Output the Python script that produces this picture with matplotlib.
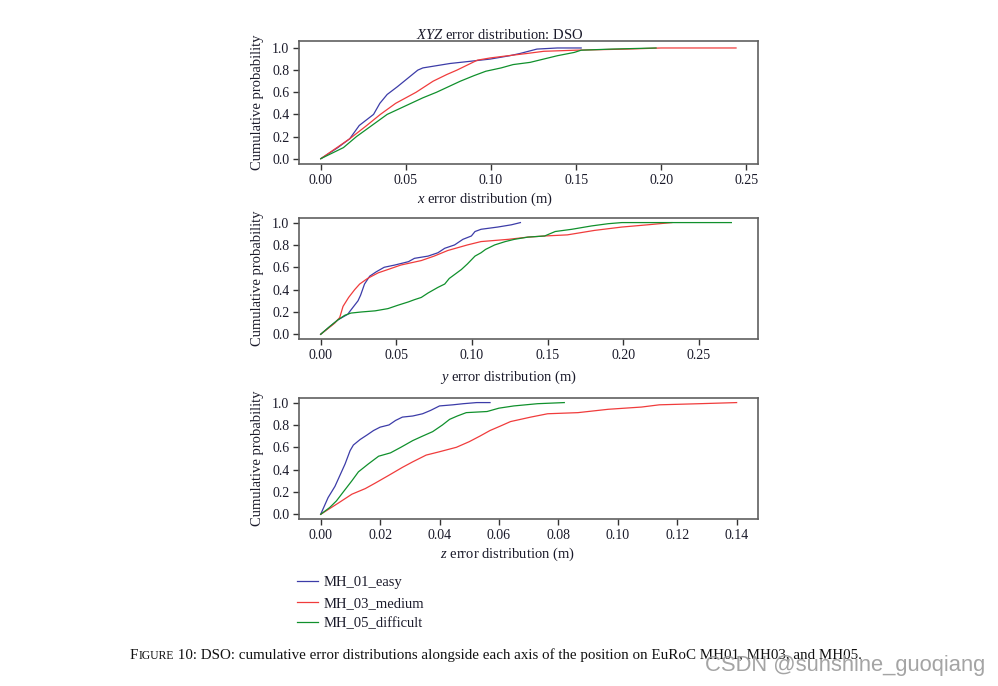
import matplotlib
matplotlib.use('Agg')
import matplotlib.pyplot as plt

plt.rcParams['font.family'] = ['Liberation Serif', 'DejaVu Serif']
plt.rcParams['mathtext.fontset'] = 'custom'
plt.rcParams['mathtext.rm'] = 'Liberation Serif'
plt.rcParams['mathtext.it'] = 'Liberation Serif:italic'

# series names and colours
names = ['MH_01_easy', 'MH_03_medium', 'MH_05_difficult']
colors = ['#3c3ca8', '#f03c3c', '#10902c']

# x axis error (m) vs cumulative probability
x_easy_err = [0, 0.010, 0.017, 0.0226, 0.031, 0.0347, 0.039, 0.045, 0.049, 0.053, 0.057, 0.060, 0.064,
              0.076, 0.088, 0.0996, 0.111, 0.117, 0.127, 0.139, 0.153]
x_easy_p = [0, 0.10, 0.18, 0.30, 0.40, 0.50, 0.58, 0.65, 0.70, 0.75, 0.80, 0.82, 0.83,
            0.86, 0.88, 0.90, 0.93, 0.95, 0.99, 1.0, 1.0]
x_med_err = [0, 0.017, 0.027, 0.035, 0.044, 0.050, 0.056, 0.066, 0.074, 0.080, 0.088, 0.092, 0.0996,
             0.110, 0.121, 0.131, 0.150, 0.180, 0.200, 0.244]
x_med_p = [0, 0.18, 0.30, 0.40, 0.50, 0.55, 0.60, 0.70, 0.76, 0.80, 0.86, 0.89, 0.91,
           0.93, 0.95, 0.97, 0.98, 0.99, 1.0, 1.0]
x_diff_err = [0, 0.0133, 0.021, 0.030, 0.039, 0.046, 0.053, 0.060, 0.068, 0.075, 0.082, 0.090, 0.097,
              0.106, 0.113, 0.123, 0.131, 0.139, 0.149, 0.153, 0.171, 0.197]
x_diff_p = [0, 0.10, 0.20, 0.30, 0.40, 0.45, 0.50, 0.55, 0.60, 0.65, 0.70, 0.75, 0.79,
            0.82, 0.85, 0.87, 0.90, 0.93, 0.96, 0.98, 0.99, 1.0]

# y axis error (m)
y_easy_err = [0, 0.0115, 0.018, 0.019, 0.0247, 0.0264, 0.029, 0.0324, 0.0368, 0.042, 0.049, 0.058, 0.062,
              0.071, 0.0775, 0.082, 0.0885, 0.094, 0.0996, 0.102, 0.106, 0.117, 0.126, 0.132]
y_easy_p = [0, 0.13, 0.18, 0.20, 0.30, 0.35, 0.45, 0.52, 0.56, 0.60, 0.62, 0.65, 0.68,
            0.70, 0.73, 0.77, 0.80, 0.85, 0.88, 0.92, 0.94, 0.96, 0.98, 1.0]
y_med_err = [0, 0.0093, 0.0126, 0.0148, 0.0185, 0.0225, 0.0258, 0.031, 0.038, 0.0445, 0.053, 0.0665, 0.075,
             0.084, 0.097, 0.106, 0.124, 0.137, 0.148, 0.163, 0.181, 0.199, 0.216, 0.232]
y_med_p = [0, 0.10, 0.15, 0.25, 0.33, 0.40, 0.45, 0.50, 0.55, 0.58, 0.62, 0.66, 0.70,
           0.75, 0.80, 0.83, 0.85, 0.87, 0.88, 0.89, 0.93, 0.96, 0.98, 1.0]
y_diff_err = [0, 0.006, 0.0115, 0.0159, 0.020, 0.027, 0.036, 0.0445, 0.051, 0.058, 0.062, 0.0665, 0.071,
              0.0775, 0.082, 0.085, 0.090, 0.093, 0.097, 0.102, 0.106, 0.109, 0.115, 0.122, 0.128,
              0.137, 0.148, 0.155, 0.166, 0.179, 0.190, 0.199, 0.2714]
y_diff_p = [0, 0.07, 0.13, 0.17, 0.19, 0.20, 0.21, 0.23, 0.26, 0.29, 0.31, 0.33, 0.37,
            0.42, 0.45, 0.50, 0.55, 0.58, 0.63, 0.70, 0.73, 0.76, 0.80, 0.83, 0.85,
            0.87, 0.88, 0.92, 0.94, 0.97, 0.99, 1.0, 1.0]

# z axis error (m)
z_easy_err = [0, 0.0025, 0.0048, 0.0065, 0.0082, 0.0099, 0.011, 0.0133, 0.0156, 0.0178, 0.020, 0.023, 0.0252,
              0.0275, 0.031, 0.0343, 0.037, 0.040, 0.0445, 0.048, 0.0525, 0.057]
z_easy_p = [0, 0.15, 0.25, 0.35, 0.45, 0.57, 0.62, 0.67, 0.71, 0.75, 0.78, 0.80, 0.84,
            0.87, 0.88, 0.90, 0.93, 0.97, 0.98, 0.99, 1.0, 1.0]
z_med_err = [0, 0.0059, 0.0105, 0.015, 0.0184, 0.023, 0.0275, 0.031, 0.0355, 0.040, 0.0457, 0.050, 0.0536,
             0.057, 0.0605, 0.0639, 0.0707, 0.0764, 0.0866, 0.0968, 0.108, 0.114, 0.1275, 0.140]
z_med_p = [0, 0.10, 0.18, 0.23, 0.28, 0.35, 0.42, 0.47, 0.53, 0.56, 0.60, 0.65, 0.70,
           0.75, 0.79, 0.83, 0.87, 0.90, 0.91, 0.94, 0.96, 0.98, 0.99, 1.0]
z_diff_err = [0, 0.003, 0.0053, 0.0076, 0.0105, 0.0127, 0.016, 0.0195, 0.0235, 0.027, 0.031, 0.0343, 0.0377,
              0.041, 0.0434, 0.046, 0.049, 0.056, 0.060, 0.065, 0.073, 0.082]
z_diff_p = [0, 0.06, 0.12, 0.20, 0.30, 0.38, 0.45, 0.52, 0.55, 0.60, 0.66, 0.70, 0.74,
            0.80, 0.85, 0.88, 0.91, 0.92, 0.95, 0.97, 0.99, 1.0]

xlabels = ['$x$ error distribution (m)', '$y$ error distribution (m)', '$z$ error distribution (m)']
xticks_list = [[0, 0.05, 0.10, 0.15, 0.20, 0.25],
               [0, 0.05, 0.10, 0.15, 0.20, 0.25],
               [0, 0.02, 0.04, 0.06, 0.08, 0.10, 0.12, 0.14]]
yticks = [0, 0.2, 0.4, 0.6, 0.8, 1.0]

panels = [
    [(x_easy_err, x_easy_p), (x_med_err, x_med_p), (x_diff_err, x_diff_p)],
    [(y_easy_err, y_easy_p), (y_med_err, y_med_p), (y_diff_err, y_diff_p)],
    [(z_easy_err, z_easy_p), (z_med_err, z_med_p), (z_diff_err, z_diff_p)],
]

W, H = 998, 686
fig = plt.figure(figsize=(W / 100, H / 100), dpi=100)

# axes boxes in pixels: (left, top, right, bottom)
boxes = [(299, 41, 758, 164), (299, 218, 758, 339), (299, 398, 758, 519)]
xlims = [(-0.0128, 0.2569), (-0.0143, 0.289), (-0.0073, 0.1472)]
ylims = [(-0.048, 1.063), (-0.042, 1.041), (-0.042, 1.041)]
xlabel_pos = [(485, 199), (509, 377), (508, 554)]

frame_col = '#606060'
text_col = '#1a1a2a'
axes = []
for i, (l, t, r, b) in enumerate(boxes):
    ax = fig.add_axes([l / W, 1 - b / H, (r - l) / W, (b - t) / H])
    for (err, p), c, n in zip(panels[i], colors, names):
        ax.plot(err, p, color=c, lw=0.9, label=n)
    ax.set_xlim(*xlims[i])
    ax.set_ylim(*ylims[i])
    ax.set_xticks(xticks_list[i])
    ax.set_xticklabels(['%.2f' % v for v in xticks_list[i]])
    ax.set_yticks(yticks)
    ax.set_yticklabels(['%.1f' % v for v in yticks])
    for s in ax.spines.values():
        s.set_color(frame_col)
        s.set_linewidth(1.2)
    ax.tick_params(direction='out', length=4, width=1, color='#333333',
                   labelsize=10, labelcolor=text_col, pad=3)
    ax.set_ylabel('Cumulative probability', fontsize=10.5, color=text_col, labelpad=6)
    fig.text(xlabel_pos[i][0] / W, 1 - xlabel_pos[i][1] / H, xlabels[i],
             ha='center', va='center', fontsize=10.5, color=text_col)
    axes.append(ax)

fig.text(500 / W, 1 - 35 / H, '$XYZ$ error distribution: DSO', ha='center', va='center',
         fontsize=10.5, color=text_col)

handles, labs = axes[2].get_legend_handles_labels()
fig.legend(handles, labs, loc='upper left', bbox_to_anchor=(297 / W, 1 - 576 / H),
           frameon=False, fontsize=10.5, handlelength=1.45, handletextpad=0.4,
           labelspacing=0.5, borderpad=0, borderaxespad=0, labelcolor=text_col)

# caption with small caps "Figure"
fig.canvas.draw()
r = fig.canvas.get_renderer()
cy = 1 - 659 / H
t1 = fig.text(130 / W, cy, 'F', fontsize=10.85, va='baseline', color='#111111')
x1 = t1.get_window_extent(r).x1
t2 = fig.text(x1 / W, cy, 'IGURE', fontsize=8.4, va='baseline', color='#111111')
x2 = t2.get_window_extent(r).x1
fig.text(x2 / W, cy, ' 10: DSO: cumulative error distributions alongside each axis of the position on EuRoC MH01, MH03, and MH05.',
         fontsize=10.85, va='baseline', color='#111111')

# watermark
fig.text(985 / W, 1 - 665 / H, 'CSDN @sunshine_guoqiang', ha='right', va='center',
         fontsize=15.8, family='Liberation Sans', color='#9a9a9a', alpha=0.9)

fig.savefig('out.png', dpi=100)
